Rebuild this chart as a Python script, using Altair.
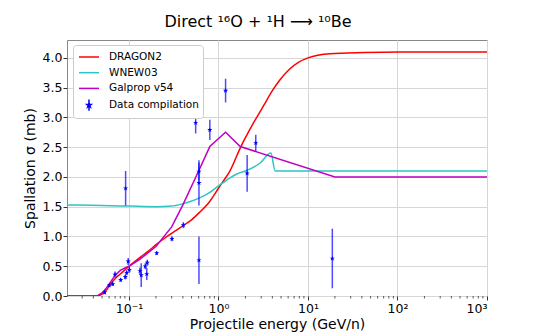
import altair as alt
import pandas as pd

# ---- DRAGON2 (red)
dragon_E = [0.0203, 0.03, 0.04, 0.045, 0.05, 0.054, 0.061, 0.067, 0.073, 0.08, 0.1, 0.133, 0.16, 0.204,
            0.25, 0.32, 0.4, 0.5, 0.61, 0.79, 1.0, 1.12, 1.33, 1.78, 2.0, 2.4, 2.8, 3.2, 4.0, 4.8, 6.2,
            7.9, 10.0, 17.6, 42.0, 100.0, 1000.0]
dragon_s = [0.0, 0.0, 0.0, 0.005, 0.03, 0.07, 0.18, 0.26, 0.32, 0.37, 0.50, 0.65, 0.74, 0.87,
            0.97, 1.08, 1.18, 1.28, 1.40, 1.58, 1.81, 1.92, 2.09, 2.51, 2.66, 2.88, 3.05, 3.20, 3.45, 3.62,
            3.81, 3.93, 4.00, 4.07, 4.09, 4.10, 4.10]

# ---- WNEW03 (cyan)
wnew_E = [0.0203, 0.05, 0.1, 0.2, 0.3, 0.4, 0.6, 0.8, 1.0, 1.12, 1.33, 1.6, 2.0, 2.9, 3.85, 4.3, 1000.0]
wnew_s = [1.53, 1.52, 1.51, 1.50, 1.51, 1.55, 1.64, 1.74, 1.85, 1.90, 1.98, 2.05, 2.10, 2.23, 2.40, 2.10, 2.10]

# ---- Galprop v54 (magenta)
gal_E = [0.0203, 0.04, 0.045, 0.05, 0.055, 0.06, 0.07, 0.08, 0.09, 0.1, 0.133, 0.2, 0.3, 0.4, 0.6,
         0.8, 1.2, 1.75, 20.0, 1000.0]
gal_s = [0.0, 0.0, 0.01, 0.05, 0.12, 0.20, 0.35, 0.43, 0.47, 0.50, 0.62, 0.83, 1.16, 1.53, 2.10,
         2.51, 2.75, 2.51, 2.0, 2.0]

# ---- Data compilation
data_E = [0.0535, 0.0603, 0.0658, 0.0698, 0.0808, 0.0910, 0.0943, 0.098, 0.1008, 0.0917, 0.1327,
          0.137, 0.152, 0.160, 0.158, 0.204, 0.302, 0.405, 0.556, 0.605, 0.605, 0.605, 0.80, 1.20,
          2.09, 2.61, 18.7]
data_s = [0.06, 0.18, 0.20, 0.36, 0.27, 0.32, 0.39, 0.58, 0.44, 1.81, 0.42, 0.35, 0.50, 0.56, 0.37,
          0.72, 0.96, 1.19, 2.91, 2.09, 1.90, 0.60, 2.79, 3.45, 2.06, 2.57, 0.63]
data_err = [0.03, 0.03, 0.03, 0.05, 0.03, 0.04, 0.04, 0.06, 0.05, 0.29, 0.06, 0.20, 0.05, 0.05, 0.10,
            0.03, 0.04, 0.05, 0.18, 0.15, 0.38, 0.40, 0.17, 0.20, 0.31, 0.14, 0.50]

series_names = ["DRAGON2", "WNEW03", "Galprop v54", "Data compilation"]
series_colors = ["#ff0000", "#2ec4c4", "#c000c0", "#0000ff"]

y_ticks = [0.0, 0.5, 1.0, 1.5, 2.0, 2.5, 3.0, 3.5, 4.0]
x_ticks = [0.1, 1, 10, 100, 1000]
minor_ticks = [k * 10.0 ** d for d in range(-2, 3) for k in range(2, 10) if k * 10.0 ** d > 0.0203]

dragon_df = pd.DataFrame({"E": dragon_E, "s": dragon_s, "series": "DRAGON2"})
wnew_df = pd.DataFrame({"E": wnew_E, "s": wnew_s, "series": "WNEW03"})
gal_df = pd.DataFrame({"E": gal_E, "s": gal_s, "series": "Galprop v54"})
data_df = pd.DataFrame({"E": data_E, "s": data_s, "err": data_err, "series": "Data compilation"})
data_df["lo"] = data_df["s"] - data_df["err"]
data_df["hi"] = data_df["s"] + data_df["err"]
minor_df = pd.DataFrame({"E": minor_ticks})
# legend-only entries (placed off-scale and clipped)
legend_df = pd.DataFrame({"E": [1e-4] * 4, "s": [1.0] * 4, "series": series_names})

STAR = ("M0,-1L0.2245,-0.309L0.951,-0.309L0.363,0.118L0.588,0.809L0,0.382L-0.588,0.809"
        "L-0.363,0.118L-0.951,-0.309L-0.2245,-0.309Z")
LINE_SYM = "M-1.43,0L1.43,0"
DATA_SYM = ("M0,-0.8L0,0.8M0,-0.32L0.075,-0.1L0.3,-0.1L0.12,0.04L0.19,0.26L0,0.12L-0.19,0.26"
            "L-0.12,0.04L-0.3,-0.1L-0.075,-0.1Z")

x_scale = alt.Scale(type="log", domain=[0.0203, 1000], nice=False)
y_scale = alt.Scale(domain=[0, 4.3], nice=False)

x_axis = alt.Axis(
    values=x_ticks,
    labelExpr="datum.value < 0.5 ? '10⁻¹' : datum.value < 5 ? '10⁰' : datum.value < 50 ? '10¹' : datum.value < 500 ? '10²' : '10³'",
    title="Projectile energy (GeV/n)",
    grid=True, tickSize=4, labelPadding=2, titlePadding=3,
)
y_axis = alt.Axis(values=y_ticks, format=".1f", title="Spallation σ (mb)",
                  grid=True, tickSize=4, labelPadding=1, titlePadding=5)

legend = alt.Legend(
    title=None, orient="none", legendX=6, legendY=5,
    fillColor="white", strokeColor="#cccccc", cornerRadius=3, padding=4,
    symbolSize=196, symbolStrokeWidth=1.5, symbolOffset=4, labelOffset=12, rowPadding=1.7,
    symbolFillColor="#0000ff", symbolOpacity=1,
    labelFont="DejaVu Sans", labelFontSize=10.5, labelColor="black",
)
color = alt.Color("series:N", scale=alt.Scale(domain=series_names, range=series_colors), legend=legend)
shape = alt.Shape("series:N", scale=alt.Scale(domain=series_names,
                                              range=[LINE_SYM, LINE_SYM, LINE_SYM, DATA_SYM]),
                  legend=legend)

X = alt.X("E:Q", scale=x_scale, axis=x_axis)
Y = alt.Y("s:Q", scale=y_scale, axis=y_axis)

dragon = alt.Chart(dragon_df).mark_line(strokeWidth=1.5, interpolate="monotone", clip=True).encode(
    x=X, y=Y, color=color)
wnew = alt.Chart(wnew_df).mark_line(strokeWidth=1.5, interpolate="monotone", clip=True).encode(
    x=X, y=Y, color=color)
gal = alt.Chart(gal_df).mark_line(strokeWidth=1.5, clip=True).encode(x=X, y=Y, color=color)
bars = alt.Chart(data_df).mark_rule(strokeWidth=1.5, opacity=0.7).encode(
    x=X, y=alt.Y("lo:Q", scale=y_scale, axis=y_axis), y2="hi:Q", color=color)
pts = alt.Chart(data_df).mark_point(shape=STAR, filled=True, size=30, opacity=1).encode(
    x=X, y=Y, color=color)
leg = alt.Chart(legend_df).mark_point(filled=False, clip=True, strokeWidth=1.5, opacity=1).encode(
    x=X, y=Y, color=color, shape=shape)
minor = alt.Chart(minor_df).mark_rule(color="#333333", strokeWidth=0.8).encode(
    x=X, y=alt.value(256), y2=alt.value(258.5))

chart = alt.layer(dragon, wnew, gal, bars, pts, leg, minor).properties(
    width=420, height=256,
    autosize=alt.AutoSizeParams(type="none"),
    padding={"left": 59, "top": 32, "right": 45, "bottom": 36},
    title=alt.TitleParams(text="Direct ¹⁶O + ¹H ⟶ ¹⁰Be", font="DejaVu Sans", fontSize=16,
                          fontWeight="normal", color="black", anchor="middle", dx=-19, offset=10),
).configure_axis(
    labelFont="DejaVu Sans", titleFont="DejaVu Sans", labelFontSize=12.5, titleFontSize=14,
    titleFontWeight="normal", labelColor="black", titleColor="black",
    gridColor="#d6d6d6", gridWidth=1, tickColor="#333333", domain=False,
).configure_view(stroke="#888888", strokeWidth=1)

chart.save("out.html", embed_options={"renderer": "svg", "actions": False})
